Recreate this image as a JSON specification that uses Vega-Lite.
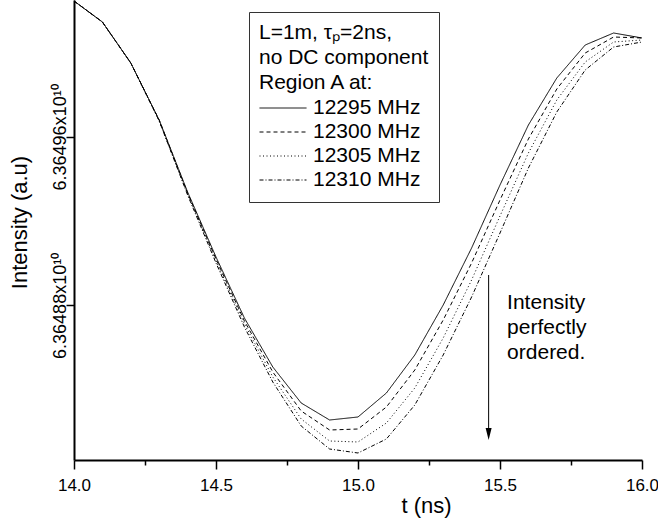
{
  "$schema": "https://vega.github.io/schema/vega-lite/v6.json",
  "width": 568,
  "height": 460,
  "autosize": {"type": "none"},
  "padding": {"left": 74, "top": 0, "right": 16, "bottom": 61},
  "config": {
    "view": {"stroke": null},
    "font": "Liberation Sans",
    "axis": {"domainColor": "black", "tickColor": "black", "labelColor": "black", "titleColor": "black", "grid": false, "domainWidth": 2, "tickWidth": 1.5, "labelFont": "Liberation Sans", "titleFont": "Liberation Sans", "titleFontWeight": "normal"}
  },
  "layer": [
    {
      "data": {"values": [
        {"t": 14.0, "12295 MHz": 63650245300, "12300 MHz": 63650245300, "12305 MHz": 63650245300, "12310 MHz": 63650245300},
        {"t": 14.1, "12295 MHz": 63650145500, "12300 MHz": 63650145500, "12305 MHz": 63650145500, "12310 MHz": 63650145500},
        {"t": 14.2, "12295 MHz": 63649950900, "12300 MHz": 63649950900, "12305 MHz": 63649950900, "12310 MHz": 63649950900},
        {"t": 14.3, "12295 MHz": 63649680200, "12300 MHz": 63649680200, "12305 MHz": 63649675500, "12310 MHz": 63649675500},
        {"t": 14.4, "12295 MHz": 63649338300, "12300 MHz": 63649333600, "12305 MHz": 63649328800, "12310 MHz": 63649324100},
        {"t": 14.5, "12295 MHz": 63649029700, "12300 MHz": 63649020200, "12305 MHz": 63649010700, "12310 MHz": 63649001200},
        {"t": 14.6, "12295 MHz": 63648740000, "12300 MHz": 63648725800, "12305 MHz": 63648711600, "12310 MHz": 63648697300},
        {"t": 14.7, "12295 MHz": 63648507400, "12300 MHz": 63648483600, "12305 MHz": 63648459900, "12310 MHz": 63648436100},
        {"t": 14.8, "12295 MHz": 63648336400, "12300 MHz": 63648298400, "12305 MHz": 63648260500, "12310 MHz": 63648227200},
        {"t": 14.9, "12295 MHz": 63648255700, "12300 MHz": 63648208200, "12305 MHz": 63648156000, "12310 MHz": 63648118000},
        {"t": 15.0, "12295 MHz": 63648270000, "12300 MHz": 63648213000, "12305 MHz": 63648151300, "12310 MHz": 63648099000},
        {"t": 15.1, "12295 MHz": 63648383900, "12300 MHz": 63648317400, "12305 MHz": 63648241500, "12310 MHz": 63648165500},
        {"t": 15.2, "12295 MHz": 63648564400, "12300 MHz": 63648493100, "12305 MHz": 63648407700, "12310 MHz": 63648326900},
        {"t": 15.3, "12295 MHz": 63648801800, "12300 MHz": 63648730500, "12305 MHz": 63648645100, "12310 MHz": 63648564400},
        {"t": 15.4, "12295 MHz": 63649072400, "12300 MHz": 63649001200, "12305 MHz": 63648920500, "12310 MHz": 63648839800},
        {"t": 15.5, "12295 MHz": 63649371600, "12300 MHz": 63649300300, "12305 MHz": 63649224400, "12310 MHz": 63649143600},
        {"t": 15.6, "12295 MHz": 63649656500, "12300 MHz": 63649590000, "12305 MHz": 63649523500, "12310 MHz": 63649452300},
        {"t": 15.7, "12295 MHz": 63649879600, "12300 MHz": 63649827400, "12305 MHz": 63649775200, "12310 MHz": 63649718200},
        {"t": 15.8, "12295 MHz": 63650036300, "12300 MHz": 63649998300, "12305 MHz": 63649955600, "12310 MHz": 63649917600},
        {"t": 15.9, "12295 MHz": 63650093300, "12300 MHz": 63650074300, "12305 MHz": 63650050600, "12310 MHz": 63650026800},
        {"t": 16.0, "12295 MHz": 63650069600, "12300 MHz": 63650069600, "12305 MHz": 63650060100, "12310 MHz": 63650050600}
      ]},
      "transform": [{"fold": ["12295 MHz", "12300 MHz", "12305 MHz", "12310 MHz"], "as": ["series", "I"]}],
      "mark": {"type": "line", "color": "black", "strokeWidth": 1},
      "encoding": {
        "x": {"field": "t", "type": "quantitative",
          "scale": {"domain": [14, 16], "nice": false, "zero": false},
          "axis": {
            "title": "t (ns)", "titleFontSize": 22, "titleX": 352, "titleY": 52, "titleBaseline": "alphabetic", "titleAlign": "center",
            "values": [14, 14.25, 14.5, 14.75, 15, 15.25, 15.5, 15.75, 16],
            "labelExpr": "abs(datum.value*2 - round(datum.value*2)) < 0.001 ? format(datum.value, '.1f') : ''",
            "tickSize": {"condition": {"test": "abs(datum.value*2 - round(datum.value*2)) < 0.001", "value": 9}, "value": 5},
            "labelFontSize": 17, "labelPadding": 8, "labelFlush": false, "labelOverlap": false
          }
        },
        "y": {"field": "I", "type": "quantitative",
          "scale": {"domain": [63648065800, 63650250000], "nice": false, "zero": false},
          "axis": {
            "title": "Intensity (a.u)", "titleFontSize": 22, "titleX": -55, "titleY": 222, "titleAlign": "center", "titleBaseline": "middle", "titleAngle": -90,
            "values": [63648800000, 63649600000],
            "labelExpr": "format(datum.value/1e10, '.5f') + 'x10¹⁰'",
            "labelAngle": -90, "labelAlign": "center", "labelBaseline": "alphabetic",
            "labelFontSize": 18, "labelPadding": 1, "tickSize": 8
          }
        },
        "strokeDash": {"field": "series", "type": "nominal",
          "scale": {"domain": ["12295 MHz", "12300 MHz", "12305 MHz", "12310 MHz"], "range": [[1, 0], [4, 3], [1, 2.5], [4, 2, 1, 2]]},
          "legend": {
            "title": ["L=1m, τₚ=2ns,", "no DC component", "Region A at:"],
            "orient": "none", "legendX": 175, "legendY": 12,
            "strokeColor": "#333", "padding": 10, "fillColor": "white",
            "titleFontSize": 21, "titleFontWeight": "normal", "titleColor": "black", "titleLineHeight": 25, "titlePadding": 3, "titleFont": "Liberation Sans",
            "labelFontSize": 21, "labelColor": "black", "labelFont": "Liberation Sans", "labelOffset": 6,
            "symbolType": "stroke", "symbolSize": 2209, "symbolStrokeWidth": 1, "symbolStrokeColor": "black",
            "clipHeight": 24, "rowPadding": 0
          }
        }
      }
    },
    {
      "data": {"values": [{"x": 15.46, "y": 63648944200, "y2": 63648208000}]},
      "mark": {"type": "rule", "color": "black", "strokeWidth": 1},
      "encoding": {
        "x": {"field": "x", "type": "quantitative"},
        "y": {"field": "y", "type": "quantitative"},
        "y2": {"field": "y2"}
      }
    },
    {
      "data": {"values": [{"x": 15.46, "y": 63648189000}]},
      "mark": {"type": "point", "shape": "M-0.5,-1L0.5,-1L0,1Z", "size": 144, "filled": true, "color": "black", "opacity": 1},
      "encoding": {
        "x": {"field": "x", "type": "quantitative"},
        "y": {"field": "y", "type": "quantitative"}
      }
    },
    {
      "data": {"values": [{"x": 15.525, "y": 63648782700, "label": "Intensity\nperfectly\nordered."}]},
      "mark": {"type": "text", "align": "left", "baseline": "alphabetic", "fontSize": 21, "lineHeight": 25, "lineBreak": "\n", "color": "black", "font": "Liberation Sans"},
      "encoding": {
        "x": {"field": "x", "type": "quantitative"},
        "y": {"field": "y", "type": "quantitative"},
        "text": {"field": "label"}
      }
    }
  ]
}
